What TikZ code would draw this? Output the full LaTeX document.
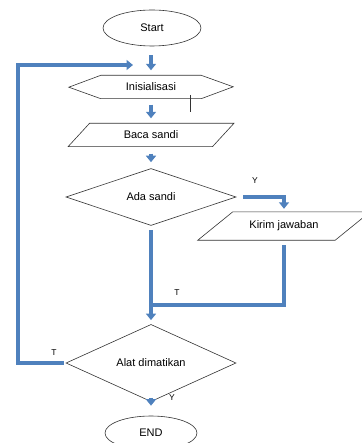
\documentclass[tikz,border=0pt]{standalone}
\usepackage{fontspec}
\setmainfont{Liberation Sans}
\usetikzlibrary{shapes.geometric, arrows.meta}
\definecolor{flowblue}{RGB}{79,129,189}
\tikzset{
  box/.style = {draw=black!80, line width=0.6pt, font=\fontsize{11}{13}\selectfont, inner sep=0pt},
  txt/.style = {font=\fontsize{11}{13}\selectfont, inner sep=0pt},
  flow/.style = {draw=flowblue, line width=3.5pt, -{Triangle[width=10pt,length=6.5pt]}},
  link/.style = {draw=flowblue, line width=3.5pt},
  lbl/.style = {font=\fontsize{8.5}{10}\selectfont, inner sep=0pt}
}
\begin{document}
\begin{tikzpicture}[x=1pt, y=-1pt]
    \useasboundingbox (0,0) rectangle (361,443);
    \node (nStart) [box, ellipse, minimum width=98pt, minimum height=36pt] at (152,28) {Start};
    \node (nInit) [txt, minimum width=100pt, minimum height=23pt] at (151,87) {Inisialisasi};
    \draw [box] (nInit.north west) -- (nInit.north east) -- ++(32,11.5) -- (nInit.south east) -- (nInit.south west) -- ++(-32,-11.5) -- cycle;
    \draw [draw=black!80, line width=0.6pt] (190.5,95) -- (190.5,112);
    \node (nBaca) [txt, minimum width=144pt, minimum height=23pt] at (151,135) {Baca sandi};
    \draw [box] ([xshift=-10.75pt]nBaca.south west) -- ([xshift=10.75pt]nBaca.north west) -- ([xshift=10.75pt]nBaca.north east) -- ([xshift=-10.75pt]nBaca.south east) -- cycle;
    \node (nAda) [box, diamond, minimum width=170pt, minimum height=48pt] at (151,197) {Ada sandi};
    \node (nKirim) [txt, minimum width=137pt, minimum height=28pt] at (284,226) {Kirim jawaban};
    \draw [box] ([xshift=-17.5pt]nKirim.south west) -- ([xshift=17.5pt]nKirim.north west) -- ([xshift=17.5pt]nKirim.north east) -- ([xshift=-17.5pt]nKirim.south east) -- cycle;
    \node (nAlat) [box, diamond, minimum width=170pt, minimum height=49pt] at (151,363) {Alat dimatikan};
    \node (nEnd) [box, ellipse, minimum width=92pt, minimum height=34pt] at (151,433) {END};
    \coordinate (cJoin) at (151,305);
    \coordinate (cLeft) at (18,65);
    \coordinate (cLoop) at (133,65);
    % arrows
    \draw [flow, shorten <=9pt, shorten >=5pt] (nStart.south -| nInit.center) -- (nInit);
    \draw [flow, shorten <=6pt, shorten >=5pt] (nInit) -- (nBaca);
    \draw [flow, shorten <=7pt, shorten >=6pt] (nBaca) -- (nAda);
    \draw [flow, shorten <=7pt, shorten >=3pt] (nAda.east) -| (nKirim.north);
    \draw [flow, shorten <=4pt, shorten >=4pt] (nAda.south) -- (nAlat.north);
    \draw [link, shorten <=5pt] (nKirim.south) |- (cJoin);
    \draw [flow, shorten <=2pt] (nAlat.west) -| (cLeft) -- (cLoop);
    \draw [flow, shorten <=4pt, shorten >=10pt] (nAlat) -- (nEnd);
    % labels
    \node (lYes) [lbl] at (255,181) {Y};
    \node (lNo) [lbl] at (177,293) {T};
    \node (lLoop) [lbl] at (54,353) {T};
    \node (lEnd) [lbl] at (172,398) {Y};
\end{tikzpicture}
\end{document}
